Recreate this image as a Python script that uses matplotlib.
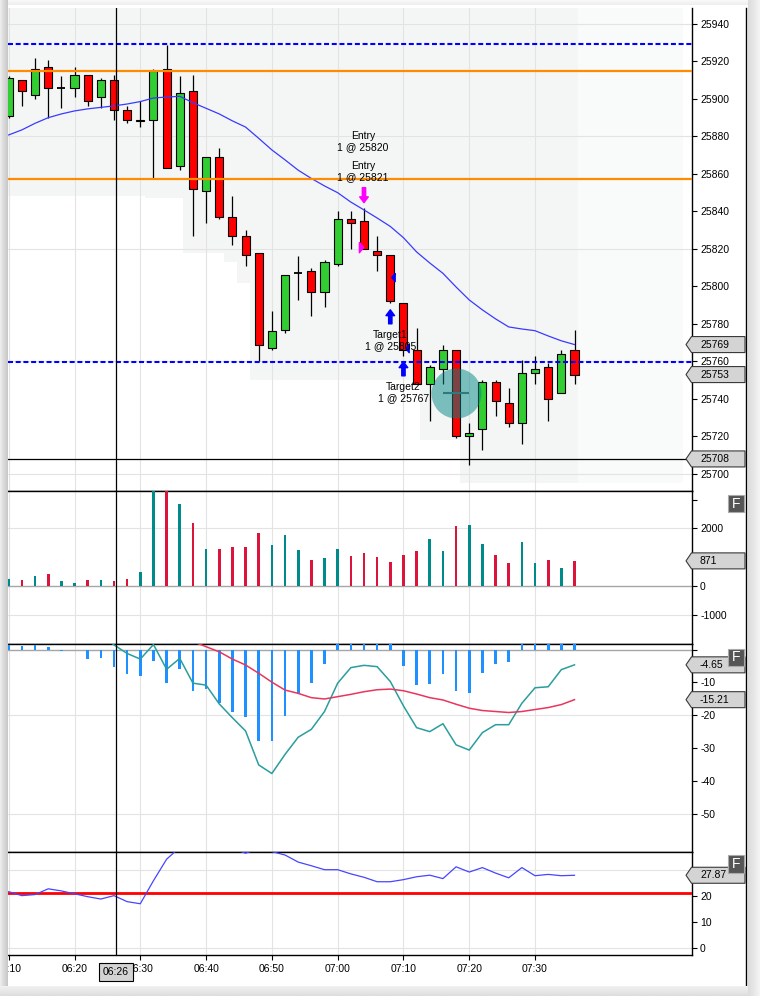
import matplotlib
matplotlib.use("Agg")
import matplotlib.pyplot as plt
import numpy as np
from matplotlib.patches import Polygon, Rectangle
from matplotlib.lines import Line2D
from matplotlib.transforms import offset_copy

plt.rcParams['font.family'] = ['Liberation Sans', 'DejaVu Sans']

# ---------------- data ----------------
times = ["06:10", "06:12", "06:14", "06:16", "06:18", "06:20", "06:22", "06:24", "06:26", "06:28",
         "06:30", "06:32", "06:34", "06:36", "06:38", "06:40", "06:42", "06:44", "06:46", "06:48",
         "06:50", "06:52", "06:54", "06:56", "06:58", "07:00", "07:02", "07:04", "07:06", "07:08",
         "07:10", "07:12", "07:14", "07:16", "07:18", "07:20", "07:22", "07:24", "07:26", "07:28",
         "07:30", "07:32", "07:34", "07:36"]
opens = [25891, 25910, 25902, 25917, 25906, 25906, 25913, 25901, 25910, 25894,
         25888, 25889, 25916, 25864, 25904, 25851, 25869, 25837, 25827, 25818,
         25767, 25777, 25807, 25808, 25797, 25812, 25836, 25835, 25819, 25817,
         25791, 25766, 25748, 25756, 25766, 25720, 25724, 25749, 25738, 25727,
         25754, 25757, 25743, 25766]
highs = [25912, 25910, 25922, 25921, 25912, 25917, 25913, 25911, 25913, 25896,
         25899, 25916, 25929, 25912, 25913, 25869, 25874, 25848, 25830, 25818,
         25787, 25806, 25816, 25810, 25814, 25840, 25840, 25842, 25827, 25817,
         25791, 25778, 25758, 25769, 25766, 25727, 25750, 25750, 25746, 25761,
         25763, 25759, 25766, 25777]
lows = [25890, 25896, 25900, 25890, 25895, 25901, 25896, 25895, 25889, 25887,
        25885, 25858, 25863, 25862, 25827, 25834, 25836, 25822, 25811, 25760,
        25766, 25775, 25793, 25784, 25789, 25811, 25820, 25820, 25808, 25791,
        25763, 25748, 25728, 25748, 25719, 25705, 25713, 25731, 25725, 25716,
        25748, 25728, 25743, 25748]
closes = [25911, 25904, 25916, 25906, 25906, 25913, 25899, 25910, 25894, 25889,
          25889, 25915, 25863, 25903, 25852, 25869, 25837, 25827, 25817, 25769,
          25776, 25806, 25807, 25797, 25813, 25836, 25834, 25820, 25817, 25792,
          25766, 25748, 25757, 25766, 25720, 25722, 25749, 25739, 25727, 25754,
          25756, 25740, 25764, 25753]
sma = [25880.8, 25883.5, 25887.0, 25890.0, 25892.0, 25893.6, 25894.7, 25895.5, 25896.3, 25897.3,
       25898.6, 25900.5, 25901.0, 25901.4, 25898.0, 25895.0, 25892.0, 25888.3, 25885.0, 25879.0,
       25872.8, 25867.5, 25862.0, 25857.6, 25853.6, 25850.0, 25845.0, 25840.8, 25836.5, 25832.0,
       25826.0, 25818.4, 25812.5, 25807.0, 25799.7, 25792.8, 25787.5, 25782.7, 25778.4, 25777.3,
       25776.4, 25773.6, 25771.0, 25769.0]
volume = [243, 208, 347, 416, 173, 104, 208, 208, 173, 243,
          485, 4300, 4100, 2842, 2184, 1282, 1282, 1352, 1352, 1837,
          1421, 1767, 1248, 901, 970, 1282, 1040, 1144, 1005, 832,
          1086, 1213, 1629, 1213, 2080, 2114, 1456, 1086, 797, 1525,
          797, 901, 624, 871]
macd = [8.1, 7.9, 8.4, 7.8, 6.7, 7.0, 4.2, 4.4, 1.4, -1.2,
        -2.9, 1.5, -6.0, -2.7, -10.2, -10.8, -16.5, -20.7, -24.7, -35.0,
        -37.6, -31.8, -26.6, -24.2, -18.8, -10.2, -5.5, -4.8, -5.2, -9.7,
        -17.1, -23.7, -24.9, -22.5, -28.9, -30.5, -25.2, -22.8, -22.8, -16.3,
        -11.6, -11.3, -6.1, -4.65]
signal = [6.6, 6.8, 6.9, 7.0, 7.1, 7.1, 7.1, 7.0, 6.8, 6.3,
          5.2, 5.0, 4.2, 3.3, 2.4, 0.85, -0.7, -2.9, -4.7, -7.2,
          -9.9, -12.3, -13.3, -14.6, -15.0, -14.3, -13.6, -12.8, -12.2, -12.0,
          -12.5, -13.5, -14.6, -15.3, -16.6, -17.8, -18.5, -18.8, -19.1, -18.8,
          -18.2, -17.6, -16.7, -15.21]
hist = [1.5, 1.1, 1.5, 0.8, -0.4, -0.1, -2.9, -2.6, -5.4, -7.5,
        -8.1, -3.5, -10.2, -6.0, -12.6, -12.0, -16.3, -19.0, -20.5, -27.8,
        -27.8, -20.2, -13.5, -10.2, -4.4, 4.1, 8.1, 8.0, 7.0, 2.3,
        -5.1, -10.8, -10.5, -7.5, -12.6, -13.2, -7.2, -4.4, -3.8, 2.5,
        6.6, 6.3, 10.6, 10.56]
adx = [21.6, 20.1, 20.5, 22.7, 21.9, 20.8, 19.7, 18.8, 20.1, 17.8,
       17.0, 25.8, 34.0, 38.5, 41.0, 40.0, 39.0, 38.0, 36.3, 38.0,
       36.9, 35.6, 32.9, 31.5, 30.0, 30.0, 28.4, 27.1, 25.4, 25.4,
       26.2, 27.3, 27.9, 26.6, 31.1, 29.1, 30.8, 28.7, 26.9, 30.8,
       27.7, 28.2, 27.7, 27.87]
adx_level = 21
levels_blue = [25929.25, 25759.5]
levels_orange = [25915, 25857.5]
cross_time = 26.3          # minutes after 06:00 (crosshair)
cross_price = 25708
entry_fills = [25820, 25821]
target_fills = [25805, 25767]
xtick_labels = ["06:10", "06:20", "06:30", "06:40", "06:50", "07:00", "07:10", "07:20", "07:30"]

# ---------------- figure ----------------
W, H = 760, 996
fig = plt.figure(figsize=(W / 100, H / 100), dpi=100, facecolor='white')


def to_min(s):
    h, m = s.split(':')
    return int(h) * 60 + int(m) - 360


x = np.array([to_min(t) for t in times], float)
o = np.array(opens, float); c = np.array(closes, float)
hi = np.array(highs, float); lo = np.array(lows, float)
xt = np.array([to_min(t) for t in xtick_labels], float)


def ax_at(top, bottom):
    return fig.add_axes([8 / W, 1 - bottom / H, (692 - 8) / W, (bottom - top) / H])


ax_p = ax_at(8, 491)
ax_v = ax_at(491, 644)
ax_m = ax_at(644, 852)
ax_a = ax_at(852, 955)
axes = [ax_p, ax_v, ax_m, ax_a]
XL = (9.89, 113.86)

ax_p.set_ylim(25690.9, 25948.5)
ax_v.set_ylim(-2012, 3295)
ax_m.set_ylim(-61.4, 1.67)
ax_a.set_ylim(-2.56, 36.75)

GRID = '#e3e3e3'
for ax in axes:
    ax.set_xlim(XL)
    ax.spines['left'].set_visible(False)
    for s in ['top', 'right', 'bottom']:
        ax.spines[s].set_color('black')
        ax.spines[s].set_linewidth(1.0)
    ax.yaxis.tick_right()
    ax.tick_params(axis='y', direction='out', length=3.6, width=0.8, pad=2.2,
                   labelsize=7.5, colors='black')
    ax.tick_params(axis='x', length=0, labelbottom=False)
    for m in xt:
        ax.axvline(m, color=GRID, lw=0.8, zorder=0.5)
ax_p.spines['top'].set_visible(False)

# ---------------- price panel ----------------
pt = np.arange(25700, 25941, 20)
ax_p.set_yticks(pt, labels=[str(v) for v in pt])
for v in pt[::3]:
    ax_p.axhline(v, color=GRID, lw=0.8, zorder=0.5)

# session shading (profile-like background)
edges = [9.89, 30.7, 36.5, 42.7, 44.7, 46.7, 72.5, 78.6, 96.5]
floor = [25848, 25847, 25818, 25813, 25802, 25750, 25718, 25695]
ax_p.fill_between(edges, floor + [floor[-1]], 25948.5, step='post',
                  color='#f4f6f6', lw=0, zorder=0.2)
ax_p.fill_between([96.5, 112.5], 25695, 25948.5, color='#f9fafa', lw=0, zorder=0.2)

ax_p.vlines(x, lo, hi, color='black', lw=0.9, zorder=2)
up = c > o
dn = c < o
dj = c == o
ax_p.bar(x[up], (c - o)[up], bottom=o[up], width=1.22, color='#32cd32',
         edgecolor='black', lw=0.8, zorder=3)
ax_p.bar(x[dn], (o - c)[dn], bottom=c[dn], width=1.22, color='#ff0000',
         edgecolor='black', lw=0.8, zorder=3)
ax_p.hlines(c[dj], x[dj] - 0.61, x[dj] + 0.61, color='black', lw=1.3, zorder=3)

ax_p.plot(x, sma, color='#3a3aff', lw=0.9, zorder=4)
for v in levels_orange:
    ax_p.axhline(v, color='#ff8c00', lw=1.6, zorder=4)
for v in levels_blue:
    ax_p.axhline(v, color='#0000ff', lw=1.5, ls=(0, (2.4, 1.3)), zorder=4)
ax_p.axhline(cross_price, color='black', lw=0.9, zorder=5)


def offs(ax, dx=0, dy=0):
    return offset_copy(ax.transData, fig=fig, x=dx, y=dy, units='dots')


def arrow(ax, xm, yv, dy_tip, dy_tail, color):
    ax.annotate('', xy=(xm, yv), xycoords=offs(ax, 0, dy_tip),
                xytext=(xm, yv), textcoords=offs(ax, 0, dy_tail),
                arrowprops=dict(arrowstyle='simple,head_length=0.42,head_width=0.62,tail_width=0.24',
                                color=color, shrinkA=0, shrinkB=0, mutation_scale=10),
                zorder=6)


i_entry = times.index("07:04")
i_t1 = times.index("07:08")
i_t2 = times.index("07:10")

# entry arrow + triangle
arrow(ax_p, x[i_entry], hi[i_entry], 5, 20, '#ff00ff')
tri_r = [(-0.4, 1), (0.4, 0), (-0.4, -1), (-0.4, 1)]
tri_l = [(0.4, 1), (-0.4, 0), (0.4, -1), (0.4, 1)]
ax_p.plot([x[i_entry]], [entry_fills[1]], marker=tri_r, ms=7.6, color='#ff00ff',
          ls='none', transform=offs(ax_p, -3, 0), zorder=6)
# target arrows + triangles
arrow(ax_p, x[i_t1], lo[i_t1], -6.5, -20.5, '#0000ff')
arrow(ax_p, x[i_t2], lo[i_t2], -6, -20, '#0000ff')
ax_p.plot([x[i_t1]], [target_fills[0]], marker=tri_l, ms=6, color='#0000ff',
          ls='none', transform=offs(ax_p, 3, 0), zorder=6)
ax_p.plot([x[i_t2]], [target_fills[1]], marker=tri_l, ms=6, color='#0000ff',
          ls='none', transform=offs(ax_p, 3.5, 0), zorder=6)

txt_kw = dict(textcoords='offset pixels', ha='center', va='center', fontsize=7.5,
              linespacing=1.15, zorder=7)
ax_p.annotate(f"Entry\n1 @ {entry_fills[0]}", xy=(x[i_entry], hi[i_entry]), xytext=(-1, 66), **txt_kw)
ax_p.annotate(f"Entry\n1 @ {entry_fills[1]}", xy=(x[i_entry], hi[i_entry]), xytext=(-1, 36.5), **txt_kw)
ax_p.annotate(f"Target1\n1 @ {target_fills[0]}", xy=(x[i_t1], lo[i_t1]), xytext=(0, -37.5), **txt_kw)
ax_p.annotate(f"Target2\n1 @ {target_fills[1]}", xy=(x[i_t2], lo[i_t2]), xytext=(0, -37), **txt_kw)

# cursor highlight circle on 07:18 bar
i_c = times.index("07:18")
cy = (o[i_c] + c[i_c]) / 2
ax_p.scatter([x[i_c]], [cy], s=36 ** 2, color='#008585', alpha=0.5, lw=0, zorder=8)
ax_p.plot([x[i_c]], [cy], marker='_', ms=19, mew=1.5, color='#2f7a7a', zorder=9)

# ---------------- volume panel ----------------
vcol = np.where(c >= o, '#008b8b', '#dc143c')
ax_v.bar(x, volume, width=0.4, color=vcol, zorder=3)
ax_v.set_yticks([-1000, 0, 1000, 2000, 3000], labels=['-1000', '0', '', '2000', ''])
for v in [-1000, 2000]:
    ax_v.axhline(v, color=GRID, lw=0.8, zorder=0.5)
ax_v.axhline(0, color='#a6a6a6', lw=1.0, zorder=1)

# ---------------- MACD panel ----------------
ax_m.bar(x, hist, width=0.4, color='#1e90ff', zorder=3)
ax_m.plot(x, macd, color='#2a9d9d', lw=1.1, zorder=4)
ax_m.plot(x, signal, color='#e8365d', lw=1.1, zorder=4)
mt = [0, -10, -20, -30, -40, -50]
ax_m.set_yticks(mt, labels=[''] + [str(v) for v in mt[1:]])
for v in [-20, -50]:
    ax_m.axhline(v, color=GRID, lw=0.8, zorder=0.5)
ax_m.axhline(0, color='#a6a6a6', lw=1.0, zorder=1)

# ---------------- ADX panel ----------------
ax_a.plot(x, adx, color='#4646ff', lw=0.9, zorder=4)
ax_a.axhline(adx_level, color='#ff0000', lw=2.0, zorder=3)
ax_a.set_yticks([0, 10, 20, 30], labels=['0', '10', '20', ''])
for v in [0, 30]:
    ax_a.axhline(v, color=GRID, lw=0.8, zorder=0.5)
ax_a.set_xticks(xt, labels=xtick_labels)
ax_a.tick_params(axis='x', length=3.6, width=0.8, pad=3.2, labelsize=7.5,
                 labelbottom=True, direction='out', colors='black')

# crosshair
for ax in axes:
    ax.axvline(cross_time, color='black', lw=0.9, zorder=10)


# ---------------- tags / overlays ----------------
def fx(px):
    return px / W


def tag(ax, val, text):
    yd = ax.transData.transform((XL[0], val))[1]
    h = 8
    pts = [(686, yd), (691.5, yd + h), (745, yd + h), (745, yd - h), (691.5, yd - h)]
    fig.patches.append(Polygon([(px / W, py / H) for px, py in pts], closed=True,
                               transform=fig.transFigure, facecolor='#d4d4d4',
                               edgecolor='#3a3a3a', lw=0.8, zorder=2))
    fig.text(fx(700), yd / H, text, ha='left', va='center', fontsize=7.5, zorder=3)


tag(ax_p, sma[-1], f"{sma[-1]:.0f}")
tag(ax_p, closes[-1], f"{closes[-1]}")
tag(ax_p, cross_price, f"{cross_price}")
tag(ax_v, volume[-1], f"{volume[-1]}")
tag(ax_m, macd[-1], f"{macd[-1]:.2f}")
tag(ax_m, signal[-1], f"{signal[-1]:.2f}")
tag(ax_a, adx[-1], f"{adx[-1]:.2f}")

# F buttons
for top in [495, 648.5, 855]:
    fig.patches.append(Rectangle((fx(727.5), 1 - (top + 17.5) / H), 16.5 / W, 17.5 / H,
                                 transform=fig.transFigure, facecolor='#555555',
                                 edgecolor='#aaaaaa', lw=0.8, zorder=4))
    fig.text(fx(736), 1 - (top + 8.8) / H, 'F', color='white', ha='center', va='center',
             fontsize=10, zorder=5)

# crosshair time box
cxd = ax_a.transData.transform((cross_time, 0))[0]
fig.text(cxd / W, 1 - 972 / H, "06:26", ha='center', va='center', fontsize=7.5, zorder=6,
         bbox=dict(boxstyle='square,pad=0.42', fc='#d3d3d3', ec='black', lw=0.8))

# window frame: right line, shadows
fig.add_artist(Line2D([fx(746), fx(746)], [1 - 987 / H, 1 - 8 / H], color='black', lw=1.0,
                      transform=fig.transFigure, zorder=6))
ga = fig.add_axes([0, 0, 8 / W, 1], zorder=20)
ga.imshow(np.linspace(0.93, 0.78, 16)[None, :], cmap='gray', vmin=0, vmax=1,
          aspect='auto', extent=[0, 1, 0, 1])
ga.axis('off')
gb = fig.add_axes([0, 0, 1, 10 / H], zorder=20)
gb.imshow(np.linspace(0.95, 0.87, 10)[:, None], cmap='gray', vmin=0, vmax=1,
          aspect='auto', extent=[0, 1, 0, 1])
gb.axis('off')
gr = fig.add_axes([748 / W, 0, 12 / W, 1], zorder=20)
gr.imshow(np.linspace(0.86, 0.95, 12)[None, :], cmap='gray', vmin=0, vmax=1,
          aspect='auto', extent=[0, 1, 0, 1])
gr.axis('off')
gt = fig.add_axes([0, 1 - 5 / H, 1, 5 / H], zorder=19)
gt.imshow(np.linspace(0.97, 0.93, 5)[:, None], cmap='gray', vmin=0, vmax=1,
          aspect='auto', extent=[0, 1, 0, 1])
gt.axis('off')

fig.savefig("out.png", dpi=100, facecolor='white')
